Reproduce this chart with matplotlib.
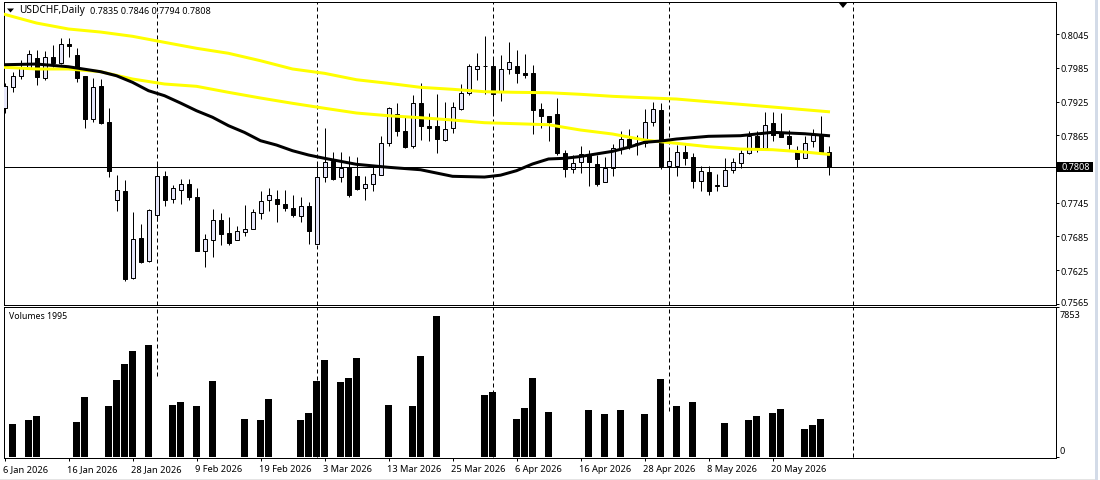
import matplotlib
matplotlib.use('Agg')
import matplotlib.pyplot as plt
from matplotlib.patches import Rectangle, Polygon
from matplotlib.transforms import ScaledTranslation

W, H = 1100, 481

# daily candles
opens = [.7913, .7950, .7971, .7985, .8002, .7967, .8005, .7993, .8027, .8008,
         .7970, .7893, .7952, .7888, .7749, .7765, .7611, .7682, .7642, .7724,
         .7792, .7751, .7768, .7778, .7756, .7660, .7678, .7714, .7691, .7679,
         .7693, .7699, .7726, .7749, .7752, .7743, .7735, .7722, .7739, .7672,
         .7790, .7820, .7790, .7809, .7792, .7772, .7779, .7795, .7852, .7902,
         .7872, .7845, .7922, .7881, .7881, .7857, .7877, .7912, .7941, .7983,
         .7988, .7989, .7942, .7982, .7988, .7976, .7975, .7911, .7899, .7902,
         .7833, .7805, .7817, .7832, .7813, .7781, .7806, .7842, .7858, .7852,
         .7851, .7888, .7909, .7810, .7811, .7835, .7826, .7783, .7799, .7775,
         .7774, .7803, .7815, .7833, .7864, .7842, .7886, .7869, .7864, .7836,
         .7824, .7854, .7867, .7835]
highs = [.7958, .7977, .7998, .8017, .8017, .8015, .8025, .8038, .8038, .8021,
         .7970, .7966, .7965, .7913, .7794, .7785, .7728, .7707, .7734, .7813,
         .7801, .7777, .7787, .7787, .7772, .7689, .7733, .7726, .7719, .7704,
         .7741, .7734, .7765, .7772, .7768, .7768, .7759, .7755, .7746, .7814,
         .7877, .7835, .7836, .7828, .7826, .7793, .7808, .7864, .7916, .7922,
         .7897, .7937, .7958, .7904, .7938, .7924, .7925, .7957, .7992, .8011,
         .8041, .8005, .8008, .8030, .8017, .8009, .7990, .7922, .7900, .7932,
         .7838, .7830, .7845, .7839, .7829, .7826, .7849, .7873, .7876, .7865,
         .7912, .7925, .7922, .7841, .7848, .7848, .7833, .7810, .7810, .7796,
         .7825, .7825, .7839, .7873, .7873, .7907, .7907, .7905, .7875, .7845,
         .7864, .7876, .7899, .7846]
lows = [.7905, .7942, .7965, .7983, .7954, .7963, .7986, .7992, .8005, .7960,
        .7877, .7889, .7885, .7790, .7731, .7605, .7610, .7638, .7639, .7713,
        .7739, .7745, .7742, .7750, .7660, .7630, .7649, .7669, .7670, .7678,
        .7686, .7699, .7716, .7731, .7710, .7731, .7720, .7711, .7672, .7672,
        .7782, .7786, .7782, .7756, .7768, .7749, .7765, .7795, .7846, .7864,
        .7842, .7842, .7857, .7854, .7833, .7855, .7869, .7910, .7937, .7963,
        .7938, .7903, .7926, .7974, .7958, .7967, .7867, .7878, .7854, .7829,
        .7790, .7798, .7798, .7775, .7775, .7781, .7792, .7832, .7841, .7830,
        .7844, .7882, .7805, .7761, .7793, .7812, .7772, .7766, .7759, .7766,
        .7774, .7798, .7807, .7831, .7836, .7842, .7855, .7861, .7841, .7808,
        .7824, .7844, .7835, .7794]
closes = [.7952, .7971, .7984, .8009, .7969, .8005, .7993, .8027, .8024, .7967,
          .7894, .7950, .7886, .7802, .7767, .7610, .7680, .7639, .7732, .7792,
          .7749, .7771, .7778, .7756, .7660, .7680, .7714, .7689, .7673, .7694,
          .7698, .7728, .7748, .7758, .7743, .7736, .7723, .7739, .7695, .7790,
          .7817, .7787, .7806, .7758, .7769, .7778, .7796, .7852, .7913, .7873,
          .7844, .7922, .7882, .7878, .7859, .7876, .7915, .7940, .7989, .7989,
          .7989, .7938, .7982, .7996, .7976, .7973, .7909, .7900, .7889, .7833,
          .7805, .7815, .7832, .7817, .7779, .7806, .7843, .7859, .7846, .7851,
          .7888, .7911, .7810, .7819, .7835, .7825, .7784, .7801, .7765, .7776,
          .7803, .7817, .7833, .7864, .7842, .7884, .7866, .7862, .7850, .7822,
          .7852, .7865, .7835, .7808]

# moving averages, read every fourth bar
ma_bars = [0, 4, 8, 12, 16, 20, 24, 28, 32, 36, 40, 44, 48, 52, 56, 60, 64, 68,
           72, 76, 80, 84, 88, 92, 96, 100, 103]
ma_slow = [.8080, .80645, .80539, .80485, .80409, .80302, .80196, .80107, .79975,
           .79828, .79751, .79637, .79573, .79502, .79467, .79424, .79413, .79406,
           .79378, .79342, .79317, .79294, .79246, .79200, .79152, .79104, .79068]
ma_mid = [.79858, .79828, .79828, .79780, .79650, .79561, .79520, .79413, .79312,
          .79218, .79130, .79045, .78997, .78962, .78921, .78873, .78855, .78837,
          .78743, .78672, .78565, .78507, .78446, .78405, .78393, .78352, .78311]
# the black one bends more, so it has extra readings
fast_bars = [0, 4, 8, 12, 14, 16, 18, 20, 22, 24, 26, 28, 30, 32, 34, 36, 38, 40,
             44, 48, 52, 56, 60, 62, 64, 66, 68, 70, 72, 76, 78, 80, 82, 84, 88,
             92, 96, 100, 103]
ma_fast = [.79904, .79916, .79868, .79780, .79708, .79591, .79442, .79353, .79223,
           .79086, .78970, .78820, .78700, .78553, .78476, .78375, .78299, .78240,
           .78133, .78080, .78037, .77920, .77907, .77940, .78020, .78139, .78228,
           .78240, .78272, .78364, .78435, .78524, .78547, .78583, .78631,
           .78642, .78702, .78677, .78642]

vol_bars = [1, 3, 4, 9, 10, 13, 14, 15, 16, 18, 21, 22, 24, 26, 30, 32, 33, 37,
            38, 39, 40, 42, 43, 44, 48, 51, 52, 54, 60, 61, 64, 65, 66, 68, 73,
            75, 77, 80, 82, 84, 86, 90, 93, 94, 96, 97, 100, 101, 102]
volumes = [1730, 1939, 2149, 1834, 3145, 2673, 4036, 4874, 5555, 5870, 2725, 2883,
           2673, 3983, 1992, 1939, 3040, 1939, 2306, 3983, 5084, 3931, 4140, 5189,
           2725, 2673, 5293, 7390, 3249, 3407, 1992, 2568, 4140, 2358, 2463, 2254,
           2463, 2254, 4088, 2673, 2883, 1782, 1939, 2149, 2306, 2516, 1467, 1677,
           1992]

sep_bars = [19, 39, 61, 83, 106]
sep_vol_floor = [4244, 0, 0, 2410, 0]

date_bars = [0, 8, 16, 24, 32, 40, 48, 56, 64, 72, 80, 88, 96]
date_labels = ['6 Jan 2026', '16 Jan 2026', '28 Jan 2026', '9 Feb 2026', '19 Feb 2026',
               '3 Mar 2026', '13 Mar 2026', '25 Mar 2026', '6 Apr 2026', '16 Apr 2026',
               '28 Apr 2026', '8 May 2026', '20 May 2026']
price_ticks = [0.8045, 0.7985, 0.7925, 0.7865, 0.7745, 0.7685, 0.7625, 0.7565]
last_price = 0.7808

plt.rcParams['font.family'] = ['Noto Sans', 'DejaVu Sans']
PX = 0.72  # one pixel in points at dpi 100
FS = 6.5
BODY = '#e6e6fa'
YELLOW = '#ffff00'


def fx(px):
    return px / W


def fy(py):
    return 1 - py / H


fig = plt.figure(figsize=(W / 100, H / 100), dpi=100, facecolor='white')
ax = fig.add_axes([fx(3.5), fy(306), fx(1055.5 - 3.5), (306 - 3) / H])
vax = fig.add_axes([fx(3.5), fy(459.3), fx(1055.5 - 3.5), (459.3 - 308.3) / H])

for a in (ax, vax):
    a.set_xlim(-0.125, 131.375)
    for s in a.spines.values():
        s.set_linewidth(PX)
ax.set_ylim(0.75632, 0.81019)
vax.set_ylim(-68, 7853)

# candles
bars = range(len(opens))
ax.vlines(bars, lows, highs, color='black', lw=PX, zorder=2)
up = [i for i in bars if closes[i] >= opens[i]]
down = [i for i in bars if closes[i] < opens[i]]
ax.bar(up, [closes[i] - opens[i] for i in up], bottom=[opens[i] for i in up],
       width=0.5, facecolor=BODY, edgecolor='black', linewidth=PX, zorder=3)
ax.bar(down, [opens[i] - closes[i] for i in down], bottom=[closes[i] for i in down],
       width=0.5, facecolor='black', edgecolor='black', linewidth=PX, zorder=3)

ax.plot(ma_bars, ma_slow, color=YELLOW, lw=3 * PX, zorder=4)
ax.plot(ma_bars, ma_mid, color=YELLOW, lw=3 * PX, zorder=4)
ax.plot(fast_bars, ma_fast, color='black', lw=3 * PX, zorder=5)
ax.axhline(last_price, color='black', lw=PX, zorder=6)

# month separators
for b, floor in zip(sep_bars, sep_vol_floor):
    ax.axvline(b, color='black', lw=PX, ls=(0, (4, 3)), zorder=1)
    vax.vlines(b, floor, 7853, color='black', lw=PX, ls=(0, (4, 3)), zorder=1)

vax.bar(vol_bars, volumes, width=0.78, color='black', zorder=3)

# axes and tick labels
ax.yaxis.tick_right()
ax.set_yticks(price_ticks)
ax.set_yticklabels(['%.4f' % p for p in price_ticks], fontsize=FS, ha='left')
ax.tick_params(axis='y', length=3 * PX, width=PX, pad=1.2)
ax.get_yticklabels()[-1].set_transform(
    ax.get_yticklabels()[-1].get_transform() + ScaledTranslation(0, 2 / 100, fig.dpi_scale_trans))
ax.set_xticks([])

vax.yaxis.tick_right()
vax.set_yticks([0, 7853])
vax.set_yticklabels([])
vax.tick_params(axis='y', length=3 * PX, width=PX)
vax.set_xticks(date_bars)
vax.set_xticklabels(date_labels, fontsize=6.7, ha='left')
vax.tick_params(axis='x', length=3 * PX, width=PX, pad=1.8)
shift = ScaledTranslation(-1.5 / 100, 0, fig.dpi_scale_trans)
for t in vax.get_xticklabels():
    t.set_transform(t.get_transform() + shift)

fig.text(fx(1059.5), fy(315.5), '7853', fontsize=FS, va='center')
fig.text(fx(1059.5), fy(452), '0', fontsize=FS, va='center')

# last price box
fig.add_artist(Rectangle((fx(1057), fy(173)), 36 / W, 10.5 / H, transform=fig.transFigure,
                         facecolor='black', edgecolor='none'))
fig.text(fx(1061.5), fy(168), '%.4f' % last_price, color='white', fontsize=FS, va='center')

# header
fig.add_artist(Polygon([(fx(7), fy(9.5)), (fx(14), fy(9.5)), (fx(10.5), fy(13.5))],
                       closed=True, transform=fig.transFigure, facecolor='black', edgecolor='none'))
fig.text(fx(19), fy(11), 'USDCHF,Daily', fontsize=7.3, va='center')
fig.text(fx(90), fy(11), '%.4f %.4f %.4f %.4f' % (opens[-1], highs[-1], lows[-1], closes[-1]),
         fontsize=FS, va='center')
fig.text(fx(9), fy(317), 'Volumes 1995', fontsize=6.3, va='center')

# chart shift marker on the top edge
fig.add_artist(Polygon([(fx(838.5), fy(3.5)), (fx(847.5), fy(3.5)), (fx(843), fy(9))],
                       closed=True, transform=fig.transFigure, facecolor='black', edgecolor='none'))

# window edges
for x0, y0, w, h, c in [(1095, 0, 3, 481, '#d3dbe8'), (0, 479.7, 1095, 1.3, '#e4e4e4'),
                        (0, 0, 1100, 1, '#a8a8a8')]:
    fig.add_artist(Rectangle((fx(x0), fy(y0 + h)), w / W, h / H, transform=fig.transFigure,
                             facecolor=c, edgecolor='none'))

fig.savefig('out.png', dpi=100, facecolor='white')
